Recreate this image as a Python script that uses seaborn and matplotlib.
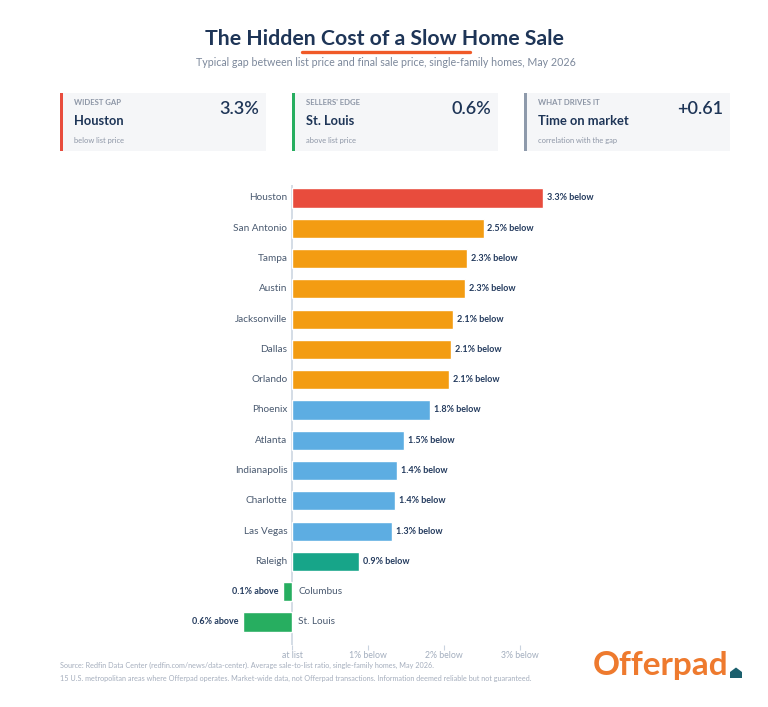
import matplotlib
matplotlib.use("Agg")
import matplotlib.pyplot as plt
import seaborn as sns
import pandas as pd
from matplotlib.patches import Rectangle, Polygon
from matplotlib.lines import Line2D

# ---- data ----
cities = ["Houston", "San Antonio", "Tampa", "Austin", "Jacksonville", "Dallas",
          "Orlando", "Phoenix", "Atlanta", "Indianapolis", "Charlotte", "Las Vegas",
          "Raleigh", "Columbus", "St. Louis"]
gap_pct = [3.30, 2.52, 2.30, 2.28, 2.12, 2.09, 2.07, 1.82, 1.48, 1.38, 1.36, 1.32,
           0.88, -0.12, -0.64]  # positive = below list price
bar_colors = ["#E84C3D", "#F39C12", "#F39C12", "#F39C12", "#F39C12", "#F39C12",
              "#F39C12", "#5DADE2", "#5DADE2", "#5DADE2", "#5DADE2", "#5DADE2",
              "#17A589", "#27AE60", "#27AE60"]
tick_vals = [0, 1, 2, 3]
tick_labels = ["at list", "1% below", "2% below", "3% below"]

card_kickers = ["WIDEST GAP", "SELLERS' EDGE", "WHAT DRIVES IT"]
card_names = ["Houston", "St. Louis", "Time on market"]
card_notes = ["below list price", "above list price", "correlation with the gap"]
card_values = ["3.3%", "0.6%", "+0.61"]
card_accents = ["#E84C3D", "#27AE60", "#8E9AAB"]

W, H = 768, 707
FONT = "Lato"
NAVY = "#1E3557"

sns.set_theme(style="white")
plt.rcParams["font.family"] = [FONT, "DejaVu Sans"]

fig = plt.figure(figsize=(W / 100, H / 100), dpi=100)
fig.patch.set_facecolor("white")

def fx(x):
    return x / W

def fy(y):
    return 1 - y / H

# ---- axes placement (pixel based) ----
L, R, T, B = 170, 620, 185, 645
zero_px, unit_px = 292, 76.0
ax = fig.add_axes([fx(L), fy(B), (R - L) / W, (B - T) / H])
xmin = (L - zero_px) / unit_px
xmax = (R - zero_px) / unit_px
row_px = (622 - 198) / 14
ymin = -(198 - T) / row_px
ymax = 14 + (B - 622) / row_px

df = pd.DataFrame({"city": cities, "gap": gap_pct})
sns.barplot(data=df, x="gap", y="city", hue="city", palette=bar_colors,
            orient="h", width=0.63, legend=False, ax=ax, saturation=1,
            order=cities, hue_order=cities)

ax.set_xlim(xmin, xmax)
ax.set_ylim(ymax, ymin)
for s in ax.spines.values():
    s.set_visible(False)
ax.axvline(0, color="#C9D3DF", lw=1.1, zorder=0)
ax.set_xlabel("")
ax.set_ylabel("")
ax.set_yticks([])
ax.set_xticks(tick_vals)
ax.set_xticklabels(tick_labels)
ax.tick_params(axis="x", length=3.5, width=0.8, color="#C9D3DF", labelsize=6.3,
               labelcolor="#A3AEBE", pad=0.5, bottom=True)

for i, (c, v) in enumerate(zip(cities, gap_pct)):
    if v >= 0:
        ax.text(-0.06, i, c, ha="right", va="center", fontsize=7.2, color="#4A5A70")
        ax.text(v + 0.05, i, f"{abs(v):.1f}% below", ha="left", va="center",
                fontsize=6.5, fontweight="bold", color="#243B5E")
    else:
        ax.text(0.08, i, c, ha="left", va="center", fontsize=7.2, color="#4A5A70")
        ax.text(v - 0.06, i, f"{abs(v):.1f}% above", ha="right", va="center",
                fontsize=6.5, fontweight="bold", color="#243B5E")

# ---- title block ----
fig.text(fx(384), fy(39), "The Hidden Cost of a Slow Home Sale", ha="center",
         va="center", fontsize=15.3, fontweight="bold", color=NAVY)
fig.add_artist(Line2D([fx(302), fx(470)], [fy(51.5), fy(51.5)], color="#F05A28",
                      lw=2.4, transform=fig.transFigure))
fig.text(fx(386), fy(62), "Typical gap between list price and final sale price, "
         "single-family homes, May 2026", ha="center", va="center",
         fontsize=7.7, color="#7C889B")

# ---- cards ----
card_x = [60, 292, 524]
card_w = 206
for x0, k, n, note, val, acc in zip(card_x, card_kickers, card_names, card_notes,
                                    card_values, card_accents):
    fig.add_artist(Rectangle((fx(x0), fy(151)), card_w / W, 58 / H,
                             transform=fig.transFigure, facecolor="#F5F6F8",
                             edgecolor="none"))
    fig.add_artist(Rectangle((fx(x0), fy(151)), 3 / W, 58 / H,
                             transform=fig.transFigure, facecolor=acc,
                             edgecolor="none"))
    fig.text(fx(x0 + 14), fy(102.5), k, ha="left", va="center", fontsize=5.6,
             fontweight="bold", color="#8D96A6")
    fig.text(fx(x0 + 14), fy(121), n, ha="left", va="center", fontsize=9.3,
             fontweight="bold", color=NAVY)
    fig.text(fx(x0 + 14), fy(141), note, ha="left", va="center", fontsize=5.4,
             color="#8D96A6")
    fig.text(fx(x0 + card_w - 7), fy(109), val, ha="right", va="center",
             fontsize=13, fontweight="semibold", color=NAVY)

# ---- footer ----
fig.text(fx(60), fy(665), "Source: Redfin Data Center (redfin.com/news/data-center). "
         "Average sale-to-list ratio, single-family homes, May 2026.",
         ha="left", va="center", fontsize=5.2, color="#A5AEBD")
fig.text(fx(60), fy(678), "15 U.S. metropolitan areas where Offerpad operates. "
         "Market-wide data, not Offerpad transactions. Information deemed reliable "
         "but not guaranteed.", ha="left", va="center", fontsize=5.2, color="#A5AEBD")

fig.text(fx(593), fy(665), "Offerpad", ha="left", va="center", fontsize=24,
         fontweight="bold", color="#EE7A2E")
fig.add_artist(Polygon([(fx(730), fy(678)), (fx(730), fy(672)), (fx(736), fy(667.5)),
                        (fx(742), fy(672)), (fx(742), fy(678))], closed=True,
                       transform=fig.transFigure, facecolor="#1B5F6D",
                       edgecolor="none"))

fig.savefig("out.png", dpi=100, facecolor="white")
